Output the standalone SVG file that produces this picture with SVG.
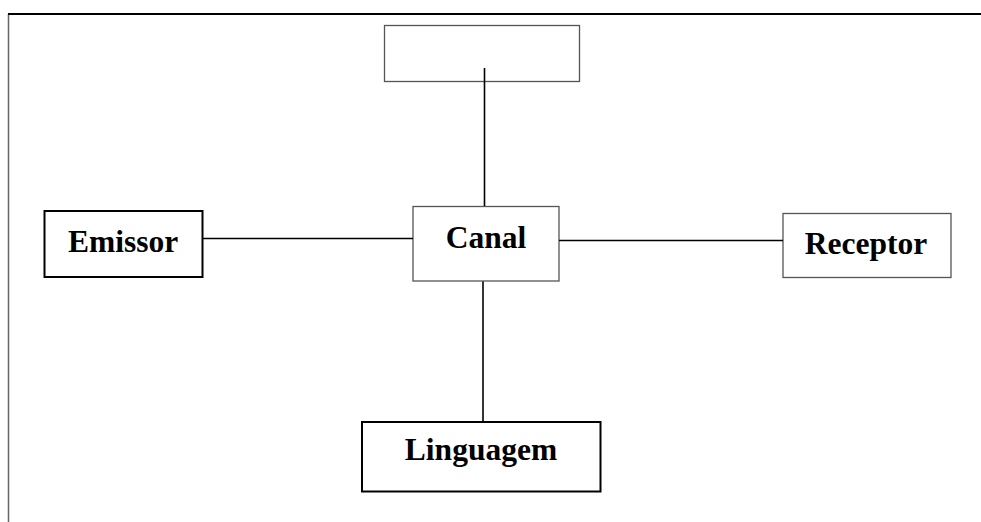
<svg xmlns="http://www.w3.org/2000/svg" width="981" height="522" viewBox="0 0 981 522">
  <style>
    .thin { fill: #fff; stroke: #555; stroke-width: 1.3; }
    .thick { fill: #fff; stroke: #000; stroke-width: 2; }
    .lbl { font-family: "Liberation Serif", "Times New Roman", serif; font-weight: bold; font-size: 31.5px; fill: #000; text-anchor: middle; }
    .conn line { stroke: #000; stroke-width: 1.6; }
  </style>
  <rect width="981" height="522" fill="#fff"/>
  <g id="frame">
    <line x1="8.5" y1="14" x2="8.5" y2="522" stroke="#666" stroke-width="1.5"/>
    <line x1="8" y1="14" x2="981" y2="14" stroke="#000" stroke-width="2"/>
  </g>
  <g id="top-box">
    <rect class="thin" x="384.5" y="25.5" width="195" height="56"/>
  </g>
  <g id="emissor">
    <rect class="thick" x="44.5" y="211" width="158" height="66"/>
    <text class="lbl" x="123" y="252">Emissor</text>
  </g>
  <g id="canal">
    <rect class="thin" x="413" y="206.5" width="146" height="74.5"/>
    <text class="lbl" x="486" y="248">Canal</text>
  </g>
  <g id="receptor">
    <rect class="thin" x="783" y="213.5" width="168" height="64"/>
    <text class="lbl" x="866" y="254">Receptor</text>
  </g>
  <g id="linguagem">
    <rect class="thick" x="362" y="422" width="238.5" height="69.5"/>
    <text class="lbl" x="481" y="460">Linguagem</text>
  </g>
  <g id="connectors" class="conn">
    <line x1="484.5" y1="68" x2="484.5" y2="206"/>
    <line x1="203" y1="238.5" x2="413" y2="238.5"/>
    <line x1="559" y1="240.5" x2="783" y2="240.5"/>
    <line x1="483" y1="281.5" x2="483" y2="421"/>
  </g>
</svg>
